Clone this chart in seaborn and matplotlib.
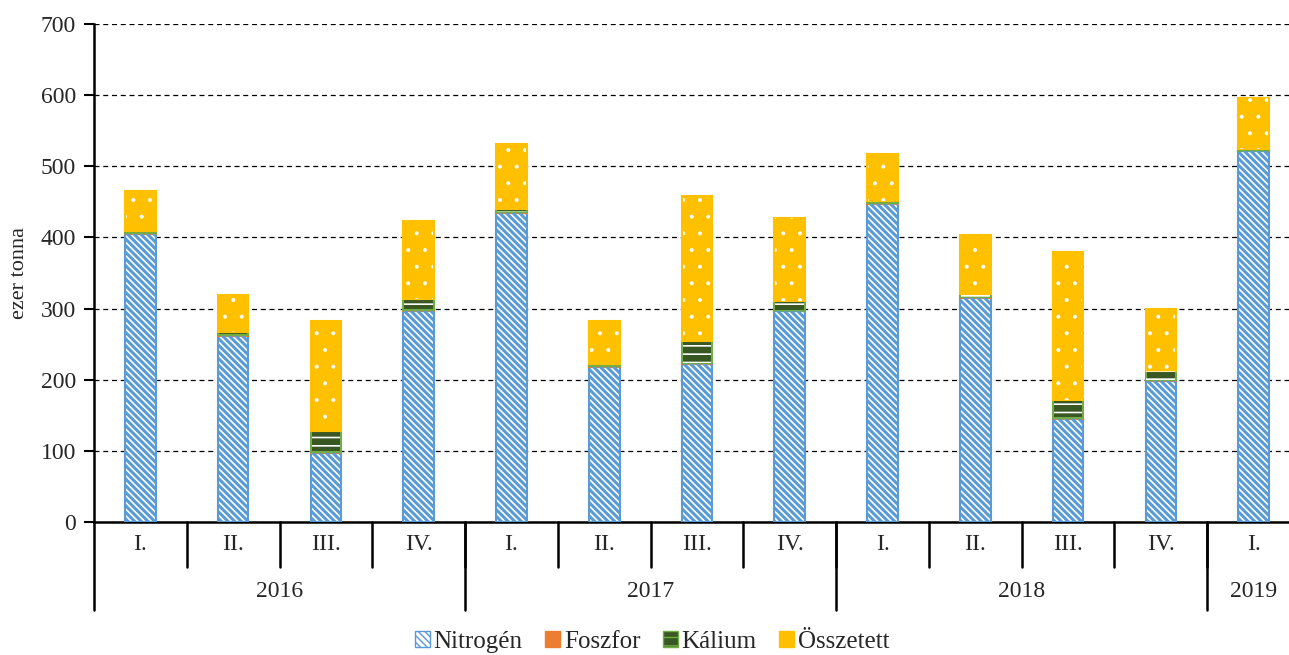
import numpy as np
import pandas as pd
import seaborn as sns
import matplotlib.pyplot as plt
from matplotlib.patches import Patch
from matplotlib.transforms import blended_transform_factory

quarters = ['I.', 'II.', 'III.', 'IV.', 'I.', 'II.', 'III.', 'IV.',
            'I.', 'II.', 'III.', 'IV.', 'I.']
years = ['2016', '2017', '2018', '2019']
year_counts = [4, 4, 4, 1]

nitrogen = [405, 262, 97, 296, 435, 218, 222, 296, 447, 315, 145, 198, 521]
foszfor = [1, 1, 2, 2, 1, 1, 2, 1, 1, 1, 1, 2, 1]
kalium = [3, 4, 29, 16, 4, 3, 30, 14, 3, 4, 25, 12, 3]
osszetett = [56, 52, 154, 109, 91, 60, 204, 116, 66, 83, 209, 87, 71]

sns.set_style('white')
plt.rcParams['font.family'] = ['Liberation Serif', 'DejaVu Serif']

cats = [f'{i}' for i in range(len(quarters))]
df = pd.DataFrame({'cat': cats, 'Nitrogén': nitrogen, 'Foszfor': foszfor,
                   'Kálium': kalium, 'Összetett': osszetett})

fig = plt.figure(figsize=(12.89, 6.55), dpi=100)
ax = fig.add_axes([94 / 1289, 133 / 655, 1206 / 1289, 498 / 655])

styles = {
    'Nitrogén': dict(face='white', hatch='\\' * 5, hcol='#5B9BD5', edge='#5B9BD5', hlw=2.2),
    'Foszfor': dict(face='#ED7D31', hatch=None, hcol=None, edge='#ED7D31', hlw=1.0),
    'Kálium': dict(face='#385723', hatch='--', hcol='white', edge='#70AD47', hlw=1.2),
    'Összetett': dict(face='#FFC000', hatch='.', hcol='white', edge='#FFC000', hlw=0.4),
}

bottom = np.zeros(len(cats))
w = 0.33
for name, st in styles.items():
    vals = df[name].to_numpy(dtype=float)
    sns.barplot(x=df['cat'], y=vals, bottom=bottom, color=st['face'],
                saturation=1, width=w, edgecolor=st['edge'], linewidth=1.5,
                ax=ax, zorder=3)
    if st['hatch']:
        with plt.rc_context({'hatch.linewidth': st['hlw']}):
            ax.bar(np.arange(len(cats)), vals, bottom=bottom, width=w - 0.02,
                   fill=False, hatch=st['hatch'], edgecolor=st['hcol'],
                   linewidth=0, zorder=4)
    bottom += vals

ax.set_ylim(0, 700)
ax.set_xlim(-0.5, len(cats) - 0.5)
ax.set_yticks(range(0, 701, 100))
ax.yaxis.grid(True, linestyle=(0, (4, 3)), color='black', linewidth=0.9, zorder=0)
ax.xaxis.grid(False)
ax.tick_params(axis='y', labelsize=17, left=True, length=7, width=1.5,
               color='black', pad=6)
ax.set_xticks([])
ax.set_xlabel('')
ax.set_ylabel('ezer tonna', fontsize=16, labelpad=8)
for s in ['top', 'right']:
    ax.spines[s].set_visible(False)
ax.spines['left'].set_color('black')
ax.spines['left'].set_linewidth(1.8)
ax.spines['bottom'].set_color('black')
ax.spines['bottom'].set_linewidth(1.8)

trans = blended_transform_factory(ax.transData, ax.transAxes)
for i, q in enumerate(quarters):
    ax.text(i, -0.046, q, transform=trans, ha='center', va='center', fontsize=17)
for i in range(len(cats) - 1):
    ax.plot([i + 0.5, i + 0.5], [0, -0.09], transform=trans, color='black',
            lw=1.8, clip_on=False)

start = 0
for y, n in zip(years, year_counts):
    ax.text(start + (n - 1) / 2, -0.139, y, transform=trans, ha='center',
            va='center', fontsize=17)
    ax.plot([start - 0.5, start - 0.5], [0, -0.177], transform=trans,
            color='black', lw=1.8, clip_on=False)
    start += n

handles = []
for n, st in styles.items():
    with plt.rc_context({'hatch.linewidth': st['hlw'] * 0.7}):
        handles.append(Patch(facecolor=st['face'], edgecolor=st['edge'],
                             hatch=st['hatch'], label=n))
fig.legend(handles=handles, loc='center', bbox_to_anchor=(0.506, 0.02), ncol=4,
           frameon=False, fontsize=18, handlelength=0.6, handleheight=0.6,
           handletextpad=0.15, columnspacing=0.9)

fig.savefig('out.png', dpi=100)
